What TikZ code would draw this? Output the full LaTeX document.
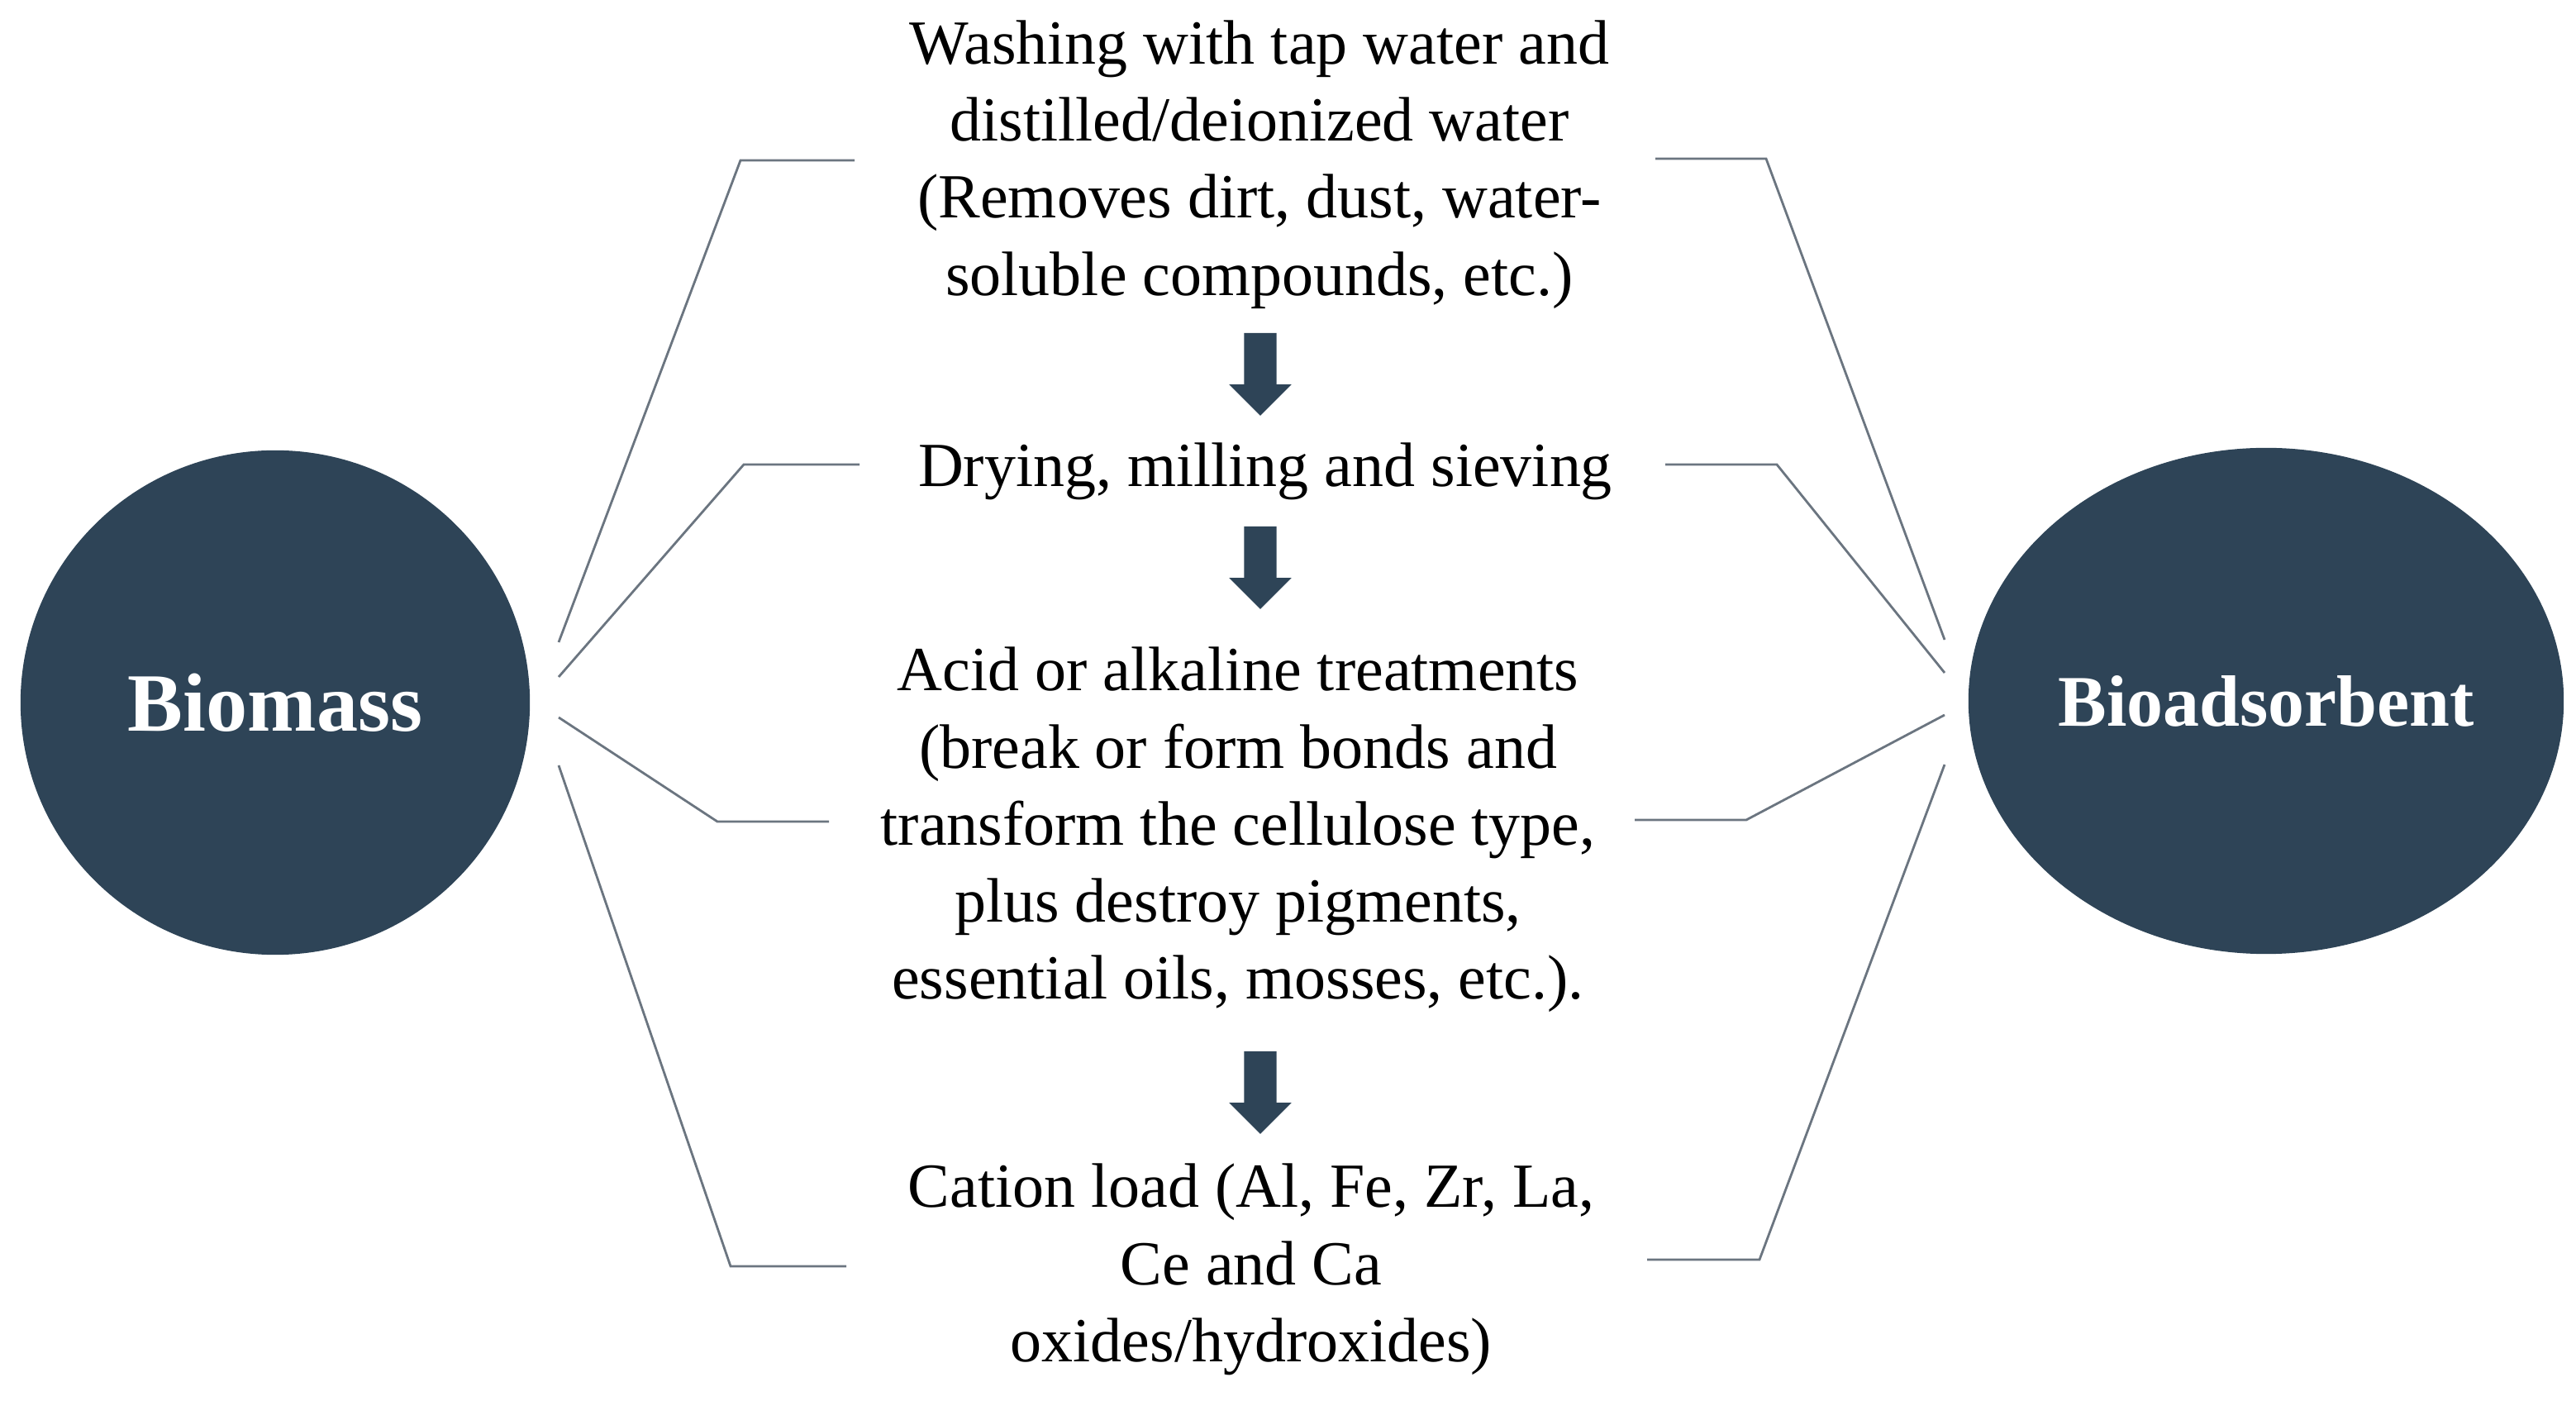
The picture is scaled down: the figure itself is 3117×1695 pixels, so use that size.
\documentclass[tikz,border=0pt]{standalone}
\usepackage{fontspec}
\setmainfont{Liberation Serif}
\usetikzlibrary{shapes.geometric, shapes.arrows}

\definecolor{slate}{RGB}{46,68,87}
\definecolor{wire}{RGB}{107,117,128}

\tikzset{
	blob/.style={ellipse, fill=slate, text=white, inner sep=0pt, font=\bfseries\fontsize{28.5}{32}\selectfont},
	stage/.style={align=center, inner sep=0pt, font=\fontsize{21.6}{26.5}\selectfont},
	wireline/.style={draw=wire, line width=0.8pt},
	downarrow/.style={single arrow, shape border rotate=270, fill=slate, draw=none,
		minimum height=1cm, minimum width=0.74cm, single arrow head extend=0.18cm, inner sep=0.19cm}
}

\begin{document}
\begin{tikzpicture}[x=0.01cm, y=-0.01cm]
	\useasboundingbox (0,0) rectangle (3117,1695);

	% end points
	\node [blob, minimum width=6.16cm, minimum height=6.1cm] (bio) at (333, 850) {Biomass};
	\node [blob, minimum width=7.2cm, minimum height=6.12cm, font=\bfseries\fontsize{25}{30}\selectfont] (ads) at (2742, 848) {Bioadsorbent};

	% steps
	\node [stage] (wash) at (1524, 199) {Washing with tap water and\\distilled/deionized water\\(Removes dirt, dust, water-\\soluble compounds, etc.)};
	\node [stage] (dry) at (1531, 570) {Drying, milling and sieving};
	\node [stage] (acid) at (1498, 1004) {Acid or alkaline treatments\\(break or form bonds and\\transform the cellulose type,\\plus destroy pigments,\\essential oils, mosses, etc.).};
	\node [stage] (cat) at (1514, 1536) {Cation load (Al, Fe, Zr, La,\\Ce and Ca\\oxides/hydroxides)};

	% block arrows
	\node [downarrow] (a1) at (1525, 443) {};
	\node [downarrow] (a2) at (1525, 677) {};
	\node [downarrow] (a3) at (1525, 1312) {};

	% left brackets
	\coordinate (l1) at (676, 777);
	\coordinate (l2) at (676, 819);
	\coordinate (l3) at (676, 868);
	\coordinate (l4) at (676, 926);
	\draw [wireline] (1034, 194) -- (896, 194) -- (l1);
	\draw [wireline] (1040, 562) -- (900, 562) -- (l2);
	\draw [wireline] (1003, 994) -- (868, 994) -- (l3);
	\draw [wireline] (1024, 1532) -- (884, 1532) -- (l4);

	% right brackets
	\coordinate (r1) at (2353, 774);
	\coordinate (r2) at (2353, 814);
	\coordinate (r3) at (2353, 865);
	\coordinate (r4) at (2353, 925);
	\draw [wireline] (2003, 192) -- (2137, 192) -- (r1);
	\draw [wireline] (2015, 562) -- (2150, 562) -- (r2);
	\draw [wireline] (1978, 992) -- (2113, 992) -- (r3);
	\draw [wireline] (1993, 1524) -- (2129, 1524) -- (r4);
\end{tikzpicture}
\end{document}
